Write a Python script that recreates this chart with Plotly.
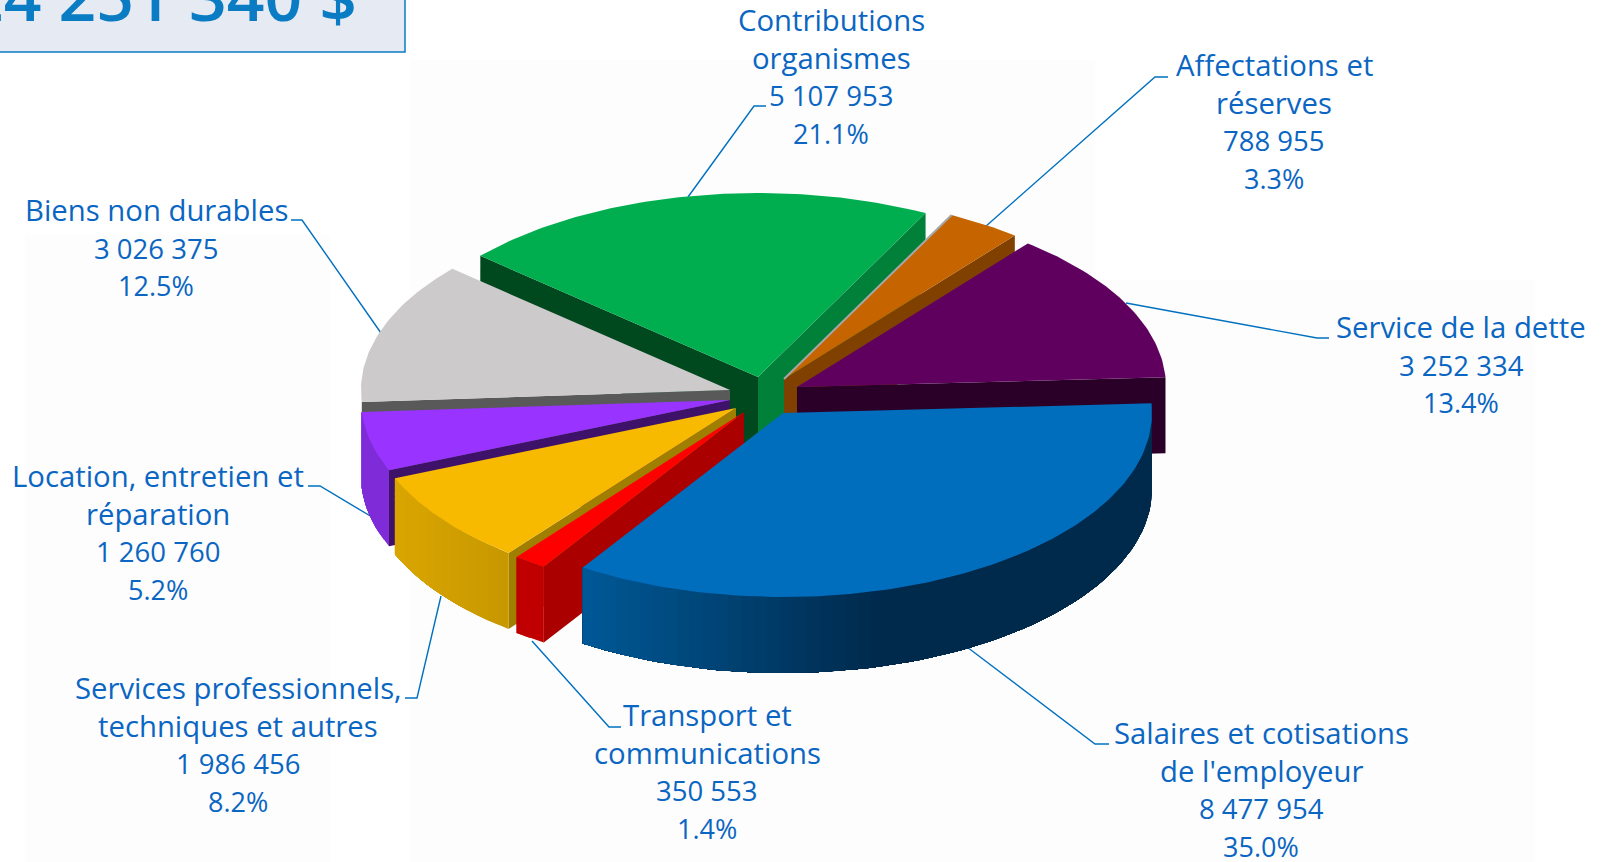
import math
import plotly.graph_objects as go

# ---- data ----
categories = [
    "Salaires et cotisations<br>de l'employeur",
    "Transport et<br>communications",
    "Services professionnels,<br>techniques et autres",
    "Location, entretien et<br>réparation",
    "Biens non durables",
    "Contributions<br>organismes",
    "Affectations et<br>réserves",
    "Service de la dette",
]
values = [8477954, 350553, 1986456, 1260760, 3026375, 5107953, 788955, 3252334]
percents = ["35.0%", "1.4%", "8.2%", "5.2%", "12.5%", "21.1%", "3.3%", "13.4%"]
total_label = "24 251 340 $"

# ---- styling / layout (pixels of the 1605x862 canvas) ----
top_colors = ["#006EBD", "#FF0000", "#F8BA00", "#9933FF", "#CCCACB", "#00AE4F", "#C66500", "#5F005F"]
apexes = [(783, 413), (744, 412), (736, 408), (730, 400), (730, 390), (758, 377), (784, 379), (797, 387)]
# colours of the flat cut walls: (edge at start angle, edge at end angle)
walls = [(None, None), ("#AA0000", None), ("#A07E00", None), ("#3F1269", None),
         ("#595959", None), ("#00491F", "#008038"), (None, "#7F4000"), (None, "#2A0028")]
# outer rim gradient: (colour at x_a, colour at x_b, x_a, x_b)
rims = [((0x00, 0x2A, 0x4C), (0x00, 0x58, 0x96), 880, 585),
        ((0xC0, 0, 0), (0xC0, 0, 0), 0, 1),
        ((0xC8, 0x98, 0x00), (0xD9, 0xA5, 0x00), 505, 395),
        ((0x7F, 0x2B, 0xD8), (0x7F, 0x2B, 0xD8), 0, 1),
        None, None, None, None]
draw_order = [5, 6, 7, 4, 3, 2, 1, 0]
RX, RY, DEPTH, START = 369, 184, 76, -3.0

label_pos = [(1261, 790), (707, 772), (238, 745), (158, 533), (156, 248), (831, 77), (1274, 122), (1461, 365)]
LINE_STEP = 37.7
leaders = [
    [(967, 647), (1095, 744), (1109, 744)],
    [(532, 641), (609, 727), (621, 727)],
    [(441, 596), (417, 698), (405, 698)],
    [(372, 517), (320, 486), (308, 486)],
    [(381, 333), (302, 220), (291, 220)],
    [(688, 197), (754, 106), (766, 106)],
    [(985, 227), (1155, 77), (1168, 77)],
    [(1126, 303), (1317, 338), (1329, 338)],
]
faint_panels = [(25, 235, 330, 862), (410, 60, 1095, 862), (1095, 280, 1535, 862)]
LABEL_FONT = "Open Sans"
NAME_SIZE, NUMBER_SIZE, PERCENT_SIZE = 29.3, 27.5, 27
LABEL_COLOR = "#0A66C2"
BLUE = "#0A7CC4"


def rim_point(apex, deg, drop=0):
    t = math.radians(deg)
    return apex[0] + RX * math.cos(t), apex[1] + RY * math.sin(t) + drop


def poly(fig, pts, color):
    xs = [p[0] for p in pts] + [pts[0][0]]
    ys = [p[1] for p in pts] + [pts[0][1]]
    fig.add_trace(go.Scatter(x=xs, y=ys, mode="lines", fill="toself", fillcolor=color,
                             line=dict(width=0), hoverinfo="skip", showlegend=False))


def hexcol(c):
    return "#%02X%02X%02X" % tuple(int(round(v)) for v in c)


# slice angles come from the values
total = sum(values)
bounds = [START]
for v in values:
    bounds.append(bounds[-1] + 360 * v / total)

fig = go.Figure()
for i in draw_order:
    a = apexes[i]
    t0, t1 = bounds[i], bounds[i + 1]
    # cut walls
    for edge_deg, col in zip((t0, t1), walls[i]):
        if col:
            p = rim_point(a, edge_deg)
            poly(fig, [a, p, (p[0], p[1] + DEPTH), (a[0], a[1] + DEPTH)], col)
    # outer rim: each strip overpaints from its start to the slice end, so no seams show
    if rims[i]:
        ca, cb, xa, xb = rims[i]
        lo, hi = t0, t1
        n = max(1, int((hi - lo) / 2))
        for k in range(n):
            s0 = lo + (hi - lo) * k / n
            x_here = rim_point(a, s0 + (hi - lo) / n / 2)[0]
            f = min(1, max(0, (x_here - xa) / (xb - xa)))
            c = [ca[j] + (cb[j] - ca[j]) * f for j in range(3)]
            m = max(2, int((hi - s0) / 2))
            arc = [rim_point(a, s0 + (hi - s0) * q / m) for q in range(m + 1)]
            low = [rim_point(a, hi - (hi - s0) * q / m, DEPTH) for q in range(m + 1)]
            poly(fig, arc + low, hexcol(c))
    # top face
    steps = max(4, int(t1 - t0))
    top = [a] + [rim_point(a, t0 + (t1 - t0) * m / steps) for m in range(steps + 1)]
    poly(fig, top, top_colors[i])
    if i == 6:  # thin light edge on the orange slice
        p = rim_point(a, t0)
        fig.add_trace(go.Scatter(x=[a[0], p[0]], y=[a[1], p[1]], mode="lines",
                                 line=dict(color="#A6A6A6", width=2), hoverinfo="skip", showlegend=False))

shapes = [dict(type="rect", x0=p[0], y0=p[1], x1=p[2], y1=p[3], fillcolor="#FDFDFD",
               line=dict(width=0), layer="below") for p in faint_panels]
shapes.append(dict(type="rect", x0=-10, y0=-10, x1=405, y1=52, fillcolor="#E6EAF3",
                   line=dict(color=BLUE, width=1.5), layer="below"))
for path in leaders:
    d = "M" + " L".join(f"{x},{y}" for x, y in path)
    shapes.append(dict(type="path", path=d, line=dict(color="#0070C0", width=1.4), layer="below"))

annotations = [dict(x=359, y=22, text=total_label, xref="x", yref="y", xanchor="right", yanchor="bottom",
                    showarrow=False, yshift=-20,
                    font=dict(family="Open Sans", size=66, color=BLUE, weight=600))]
for name, v, pct, pos in zip(categories, values, percents, label_pos):
    num = f"{v:,}".replace(",", " ")
    names = name.split("<br>")
    lines = [(s, NAME_SIZE) for s in names] + [(num, NUMBER_SIZE), (pct, PERCENT_SIZE)]
    for k, (line, size) in enumerate(lines):
        annotations.append(dict(x=pos[0], y=pos[1] + (k - (len(lines) - 1) / 2) * LINE_STEP, text=line,
                                xref="x", yref="y", xanchor="center", yanchor="middle", showarrow=False,
                                font=dict(family=LABEL_FONT, size=size, color=LABEL_COLOR)))

fig.update_layout(
    width=1605, height=862, margin=dict(l=0, r=0, t=0, b=0),
    paper_bgcolor="white", plot_bgcolor="rgba(0,0,0,0)", showlegend=False,
    xaxis=dict(range=[0, 1605], visible=False, fixedrange=True),
    yaxis=dict(range=[862, 0], visible=False, fixedrange=True),
    shapes=shapes, annotations=annotations,
)
fig.write_html("out.html", config=dict(displayModeBar=False),
               post_script="document.body.style.margin='0';document.body.style.overflow='hidden';")
